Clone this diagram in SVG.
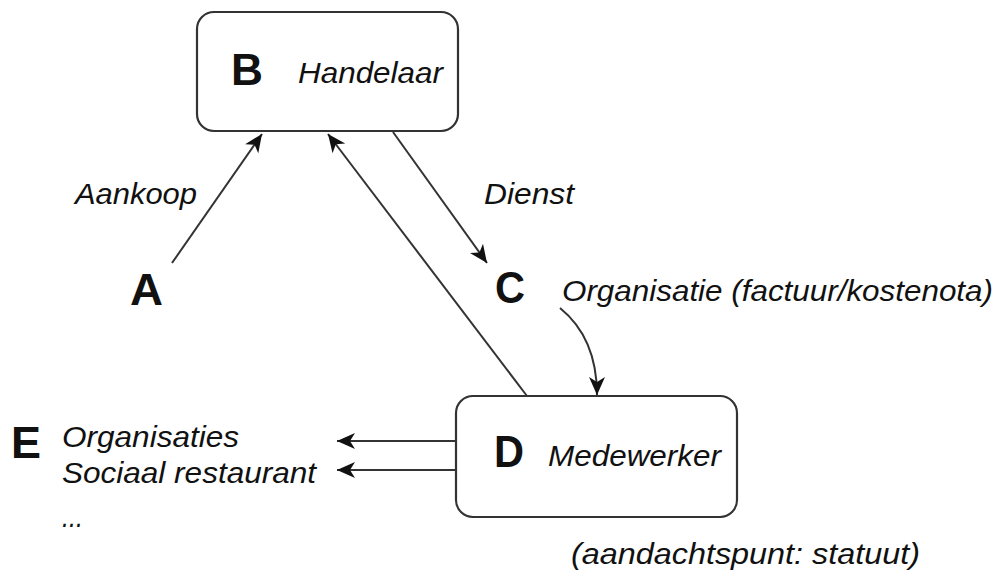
<svg xmlns="http://www.w3.org/2000/svg" width="1001" height="572" viewBox="0 0 1001 572">
<style>
.box{fill:#fff;stroke:#333;stroke-width:2.2}
.big{font-family:"Liberation Sans",Arial,sans-serif;font-weight:bold;font-size:45px;fill:#111}
.lbl{font-family:"Liberation Sans",Arial,sans-serif;font-style:italic;font-size:30px;fill:#111}
.con{fill:none;stroke:#333;stroke-width:2}
</style>
<defs>
<marker id="ah" viewBox="-1 -9 20 18" markerWidth="20" markerHeight="18" refX="18" refY="0" orient="auto" markerUnits="userSpaceOnUse">
<path d="M0,-8 L18,0 L0,8 L5,0 Z" fill="#111"/>
</marker>
</defs>
<g id="connectors">
<line class="con" x1="172" y1="263" x2="262" y2="134" marker-end="url(#ah)"/>
<line class="con" x1="527" y1="396" x2="328" y2="134" marker-end="url(#ah)"/>
<line class="con" x1="393" y1="132" x2="487" y2="263" marker-end="url(#ah)"/>
<path class="con" d="M560,308 Q597,338 597,395" marker-end="url(#ah)"/>
<line class="con" x1="456" y1="441" x2="337" y2="441" marker-end="url(#ah)"/>
<line class="con" x1="456" y1="470" x2="337" y2="470" marker-end="url(#ah)"/>
</g>
<g id="nodeB">
<rect class="box" x="197" y="12" width="261" height="119" rx="17"/>
<text class="big" x="231" y="85" textLength="32" lengthAdjust="spacingAndGlyphs">B</text>
<text class="lbl" x="298" y="83" textLength="145" lengthAdjust="spacingAndGlyphs">Handelaar</text>
</g>
<g id="nodeD">
<rect class="box" x="456" y="396" width="281" height="121" rx="17"/>
<text class="big" x="494" y="467" textLength="30" lengthAdjust="spacingAndGlyphs">D</text>
<text class="lbl" x="548" y="466" textLength="173" lengthAdjust="spacingAndGlyphs">Medewerker</text>
<text class="lbl" x="571" y="564" textLength="349" lengthAdjust="spacingAndGlyphs">(aandachtspunt: statuut)</text>
</g>
<g id="nodeA">
<text class="big" x="130" y="305" textLength="33" lengthAdjust="spacingAndGlyphs">A</text>
<text class="lbl" x="75" y="204" textLength="122" lengthAdjust="spacingAndGlyphs">Aankoop</text>
</g>
<g id="nodeC">
<text class="big" x="495" y="303" textLength="30" lengthAdjust="spacingAndGlyphs">C</text>
<text class="lbl" x="484" y="204" textLength="90" lengthAdjust="spacingAndGlyphs">Dienst</text>
<text class="lbl" x="562" y="301" textLength="431" lengthAdjust="spacingAndGlyphs">Organisatie (factuur/kostenota)</text>
</g>
<g id="nodeE">
<text class="big" x="11" y="458" textLength="30" lengthAdjust="spacingAndGlyphs">E</text>
<text class="lbl" x="62" y="447" textLength="177" lengthAdjust="spacingAndGlyphs">Organisaties</text>
<text class="lbl" x="62" y="483" textLength="254" lengthAdjust="spacingAndGlyphs">Sociaal restaurant</text>
<text class="lbl" x="62" y="527" textLength="21" lengthAdjust="spacingAndGlyphs">...</text>
</g>
</svg>
